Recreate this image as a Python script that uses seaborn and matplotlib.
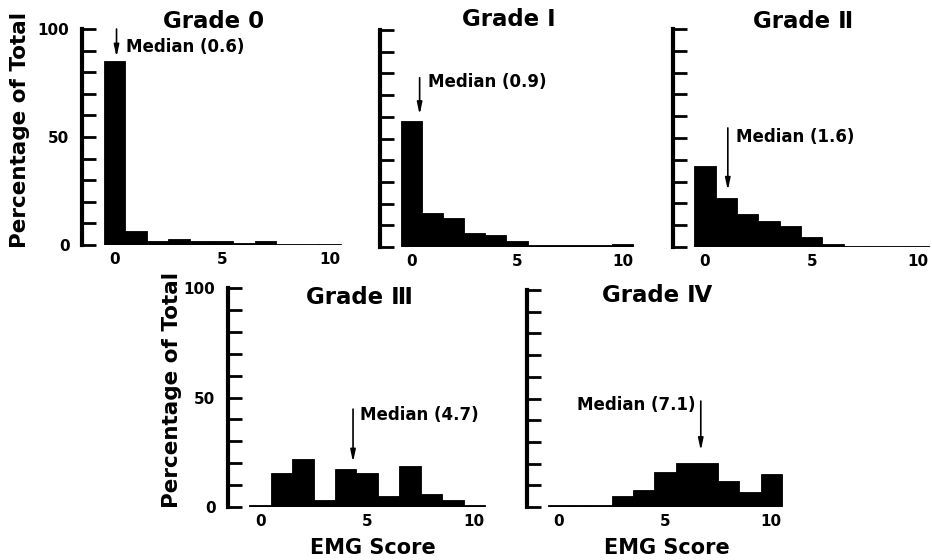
import numpy as np
import pandas as pd
import matplotlib
matplotlib.use("Agg")
import matplotlib.pyplot as plt
import seaborn as sns

# ---- data ----
scores = list(range(11))
grades = ["Grade 0", "Grade \u2160", "Grade \u2161", "Grade \u2162", "Grade \u2163"]
pct_g0 = [85, 6.6, 2.0, 2.6, 1.7, 1.7, 0.8, 2.0, 0.5, 0.5, 0.5]
pct_g1 = [58, 15.7, 13.5, 6.5, 5.7, 2.8, 1.0, 1.0, 1.0, 1.0, 1.3]
pct_g2 = [37, 22.7, 15.3, 11.8, 9.5, 4.6, 1.5, 0.5, 0.3, 0.3, 0.3]
pct_g3 = [0.8, 15.6, 22, 3.0, 17.5, 15.7, 5.0, 18.6, 5.8, 3.4, 1.0]
pct_g4 = [1.0, 1.0, 1.0, 5.0, 7.7, 16, 20.3, 20.3, 12, 7.0, 15]
medians = [0.6, 0.9, 1.6, 4.7, 7.1]
series = [pct_g0, pct_g1, pct_g2, pct_g3, pct_g4]

# ---- layout (pixels: left, top, right, bottom) ----
W, H = 932, 560
boxes = [(82, 29, 342, 245), (380, 30, 634, 247), (673, 29, 930, 247),
         (228, 288, 486, 507), (527, 290, 783, 507)]
# arrow x, arrow top, arrow bottom, text x, text y, text align
ann = [(0.1, 100, 87, 0.55, 91.5, "left"),
       (0.38, 78, 61, 0.76, 76, "left"),
       (1.07, 54.6, 26, 1.45, 50.5, "left"),
       (4.34, 44.7, 20.5, 4.67, 42, "left"),
       (6.68, 48.8, 26, 6.45, 47, "right")]
title_y = [22, 20, 22, 297, 295]

sns.set_style("white")
plt.rcParams["font.family"] = ["DejaVu Sans"]
plt.rcParams["font.weight"] = "bold"
for k in ["text.color", "axes.labelcolor", "xtick.color", "ytick.color"]:
    plt.rcParams[k] = "black"

fig = plt.figure(figsize=(W / 100, H / 100), dpi=100)

for i, (vals, box) in enumerate(zip(series, boxes)):
    l, t, r, b = box
    ax = fig.add_axes([l / W, 1 - b / H, (r - l) / W, (b - t) / H])
    df = pd.DataFrame({"score": scores, "pct": vals})
    sns.histplot(data=df, x="score", weights="pct", discrete=True, ax=ax,
                 color="black", alpha=1, edgecolor="black", linewidth=0.6)
    ax.set_xlim(-1.5, 10.55)
    ax.set_ylim(0, 100)
    for s in ["top", "right", "bottom"]:
        ax.spines[s].set_visible(False)
    ax.spines["left"].set_linewidth(3)
    ax.spines["left"].set_color("black")
    ax.set_yticks(range(0, 101, 10))
    if i in (0, 3):
        ax.set_yticklabels(["0" if v == 0 else ("50" if v == 50 else ("100" if v == 100 else "")) for v in range(0, 101, 10)])
    else:
        ax.set_yticklabels([""] * 11)
    ax.tick_params(axis="y", direction="in", length=10, width=2, pad=9,
                   labelsize=11, left=True, color="black", labelcolor="black")
    ax.set_xticks([0, 5, 10])
    ax.set_xticklabels(["0", "5", "10"])
    ax.tick_params(axis="x", length=0, pad=5, labelsize=11, labelcolor="black")
    ax.set_xlabel("")
    ax.set_ylabel("")
    for lab in ax.get_xticklabels() + ax.get_yticklabels():
        lab.set_fontweight("bold")
    ax.patch.set_alpha(0)

    axx, atop, abot, tx, ty, ha = ann[i]
    ax.annotate("", xy=(axx, abot), xytext=(axx, atop),
                arrowprops=dict(arrowstyle="-|>,head_width=0.15,head_length=0.7",
                                color="black", lw=1.2, shrinkA=0, shrinkB=0),
                annotation_clip=False)
    ax.text(tx, ty, f"Median ({medians[i]})", ha=ha, va="center",
            fontsize=12, fontweight="bold", color="black")
    fig.text(((l + r) / 2 + 2) / W, 1 - title_y[i] / H, grades[i],
             ha="center", va="center", fontsize=16.5, fontweight="bold",
             color="black")

fig.text(20 / W, 1 - 130 / H, "Percentage of Total", rotation=90,
         ha="center", va="center", fontsize=15.5, fontweight="bold", color="black")
fig.text(172 / W, 1 - 390 / H, "Percentage of Total", rotation=90,
         ha="center", va="center", fontsize=15.5, fontweight="bold", color="black")
fig.text(373 / W, 1 - 548 / H, "EMG Score", ha="center", va="center",
         fontsize=15, fontweight="bold", color="black")
fig.text(667 / W, 1 - 548 / H, "EMG Score", ha="center", va="center",
         fontsize=15, fontweight="bold", color="black")

fig.savefig("out.png", dpi=100, facecolor="white")
